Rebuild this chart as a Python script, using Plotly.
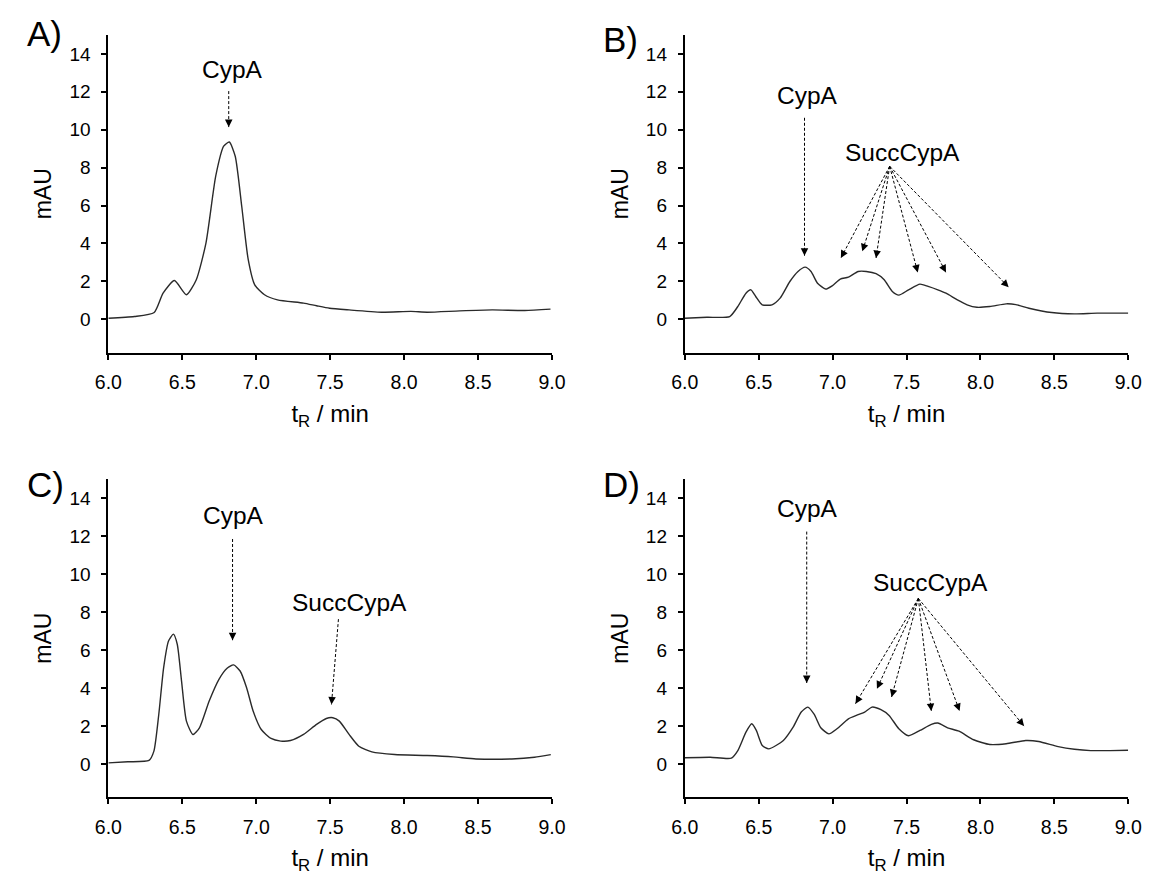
import math
import plotly.graph_objects as go

# ---------------- data ----------------
t_A = [6.0, 6.176, 6.31, 6.37, 6.447, 6.528, 6.594, 6.66, 6.726, 6.78, 6.818, 6.858, 6.902, 6.946,
       6.99, 7.056, 7.144, 7.32, 7.408, 7.496, 7.628, 7.848, 8.046, 8.156, 8.376, 8.596, 8.816, 8.99]
mAU_A = [0.05, 0.14, 0.35, 1.37, 2.04, 1.29, 2.07, 4.02, 7.55, 9.13, 9.35, 8.6, 5.96, 3.14,
         1.81, 1.29, 1.02, 0.85, 0.71, 0.58, 0.49, 0.37, 0.41, 0.37, 0.44, 0.49, 0.46, 0.53]

t_B = [6.0, 6.15, 6.304, 6.359, 6.414, 6.447, 6.48, 6.524, 6.59, 6.645, 6.711, 6.766, 6.814, 6.854,
       6.898, 6.953, 6.997, 7.052, 7.107, 7.173, 7.228, 7.294, 7.349, 7.404, 7.448, 7.514, 7.591,
       7.646, 7.712, 7.767, 7.844, 7.91, 7.976, 8.064, 8.174, 8.24, 8.328, 8.482, 8.636, 8.79, 9.0]
mAU_B = [0.05, 0.1, 0.14, 0.67, 1.37, 1.55, 1.2, 0.76, 0.76, 1.11, 1.99, 2.52, 2.75, 2.52,
         1.9, 1.59, 1.76, 2.12, 2.22, 2.52, 2.52, 2.4, 2.08, 1.46, 1.27, 1.55, 1.85,
         1.73, 1.55, 1.37, 1.02, 0.76, 0.63, 0.67, 0.81, 0.77, 0.58, 0.35, 0.28, 0.32, 0.32]

t_C = [6.0, 6.132, 6.275, 6.308, 6.341, 6.374, 6.407, 6.44, 6.466, 6.495, 6.528, 6.572, 6.616,
       6.682, 6.748, 6.803, 6.847, 6.891, 6.935, 6.979, 7.034, 7.1, 7.166, 7.232, 7.32, 7.408,
       7.474, 7.518, 7.562, 7.628, 7.694, 7.782, 7.936, 8.156, 8.332, 8.486, 8.728, 8.882, 8.992]
mAU_C = [0.05, 0.11, 0.18, 0.67, 2.6, 5.07, 6.47, 6.83, 6.3, 4.36, 2.25, 1.55, 1.9,
         3.31, 4.45, 5.03, 5.21, 4.89, 4.01, 2.78, 1.81, 1.34, 1.2, 1.23, 1.55, 2.08,
         2.39, 2.43, 2.25, 1.55, 0.93, 0.63, 0.49, 0.44, 0.37, 0.26, 0.26, 0.35, 0.49]

t_D = [6.0, 6.172, 6.315, 6.359, 6.414, 6.453, 6.484, 6.524, 6.568, 6.667, 6.733, 6.788, 6.832,
       6.876, 6.92, 6.975, 7.03, 7.107, 7.173, 7.217, 7.267, 7.327, 7.382, 7.448, 7.514, 7.591,
       7.668, 7.712, 7.778, 7.855, 7.954, 8.064, 8.174, 8.306, 8.394, 8.526, 8.636, 8.746, 8.878, 8.999]
mAU_D = [0.32, 0.35, 0.3, 0.7, 1.67, 2.11, 1.76, 0.97, 0.79, 1.23, 1.93, 2.73, 2.99,
         2.6, 1.9, 1.58, 1.85, 2.37, 2.59, 2.73, 2.99, 2.85, 2.55, 1.85, 1.48, 1.76,
         2.08, 2.15, 1.9, 1.72, 1.27, 1.02, 1.06, 1.23, 1.18, 0.91, 0.77, 0.7, 0.7, 0.72]

panel_labels = ["A)", "B)", "C)", "D)"]
x_ticks = [6.0, 6.5, 7.0, 7.5, 8.0, 8.5, 9.0]
y_ticks = [0, 2, 4, 6, 8, 10, 12, 14]

# peak labels: (text, t, mAU) per panel
labels_A = [("CypA", 6.84, 13.16)]
labels_B = [("CypA", 6.83, 11.83), ("SuccCypA", 7.47, 8.78)]
labels_C = [("CypA", 6.847, 13.07), ("SuccCypA", 7.633, 8.5)]
labels_D = [("CypA", 6.827, 13.42), ("SuccCypA", 7.663, 9.53)]

# arrows: (origin t, origin mAU, [(tip t, tip mAU), ...]) per panel
arrows_A = [(6.814, 12.04, [(6.814, 10.14)])]
arrows_B = [(6.81, 10.63, [(6.81, 3.35)]),
            (7.386, 8.07, [(7.056, 3.23), (7.201, 3.58), (7.294, 3.23),
                           (7.576, 2.47), (7.767, 2.47), (8.191, 1.69)])]
arrows_C = [(6.84, 11.84, [(6.84, 6.51)]),
            (7.556, 7.62, [(7.509, 3.13)])]
arrows_D = [(6.825, 12.23, [(6.825, 4.26)]),
            (7.58, 8.71, [(7.155, 3.17), (7.3, 3.96), (7.399, 3.52),
                          (7.668, 2.78), (7.859, 2.78), (8.295, 1.99)])]

# ---------------- layout ----------------
W, H = 1162, 875
FONT = "Liberation Sans, Arial, Helvetica, sans-serif"
X_RANGE = [6.0, 9.0]
Y_RANGE = [-1.76, 15.0]
XDOM_L = [0.0832, 0.4744]
XDOM_R = [0.5915, 0.9826]
YDOM_T = [0.5971, 0.960]
YDOM_B = [0.0888, 0.4526]
# panel letter anchor (left px, vertical centre px)
LETTER_POS = [(11, 34), (602, 39), (11, 484), (602, 484)]

panels = [
    (t_A, mAU_A, XDOM_L, YDOM_T, labels_A, arrows_A),
    (t_B, mAU_B, XDOM_R, YDOM_T, labels_B, arrows_B),
    (t_C, mAU_C, XDOM_L, YDOM_B, labels_C, arrows_C),
    (t_D, mAU_D, XDOM_R, YDOM_B, labels_D, arrows_D),
]

fig = go.Figure()
annotations = []
layout_axes = {}

for i, (tt, vv, xdom, ydom, labs, arrs) in enumerate(panels):
    n = i + 1
    xa = "x" if n == 1 else f"x{n}"
    ya = "y" if n == 1 else f"y{n}"
    xkey = "xaxis" if n == 1 else f"xaxis{n}"
    ykey = "yaxis" if n == 1 else f"yaxis{n}"

    fig.add_trace(go.Scatter(x=tt, y=vv, mode="lines", xaxis=xa, yaxis=ya,
                             line=dict(color="#2a2a2a", width=1.4, shape="spline", smoothing=0.6),
                             showlegend=False, hoverinfo="skip"))

    layout_axes[xkey] = dict(
        domain=xdom, anchor=ya, range=X_RANGE, tickvals=x_ticks,
        ticktext=[f"{v:.1f}" for v in x_ticks],
        showline=True, linecolor="black", linewidth=2, mirror=False,
        ticks="outside", ticklen=5, tickwidth=1.5, tickcolor="black",
        showgrid=False, zeroline=False, ticklabelstandoff=6,
        tickfont=dict(family=FONT, size=19.5, color="black"),
        title=dict(text="t<sub>R</sub> / min", font=dict(family=FONT, size=24, color="black"), standoff=13),
    )
    layout_axes[ykey] = dict(
        domain=ydom, anchor=xa, range=Y_RANGE, tickvals=y_ticks,
        showline=True, linecolor="black", linewidth=2, mirror=False,
        ticks="outside", ticklen=5, tickwidth=1.5, tickcolor="black",
        showgrid=False, zeroline=False, ticklabelstandoff=7,
        tickfont=dict(family=FONT, size=19, color="black"),
        title=dict(text="mAU", font=dict(family=FONT, size=23, color="black"), standoff=11),
    )

    # pixel scales for arrowhead orientation
    sx = (xdom[1] - xdom[0]) * W / (X_RANGE[1] - X_RANGE[0])
    sy = (ydom[1] - ydom[0]) * H / (Y_RANGE[1] - Y_RANGE[0])

    for (txt, lt, lv) in labs:
        annotations.append(dict(x=lt, y=lv, xref=xa, yref=ya, text=txt, showarrow=False,
                                xanchor="center", yanchor="middle",
                                font=dict(family=FONT, size=24.5, color="black")))

    for (ot, ov, tips) in arrs:
        for (pt, pv) in tips:
            fig.add_trace(go.Scatter(x=[ot, pt], y=[ov, pv], mode="lines", xaxis=xa, yaxis=ya,
                                     line=dict(color="black", width=1, dash="3px,2px"),
                                     showlegend=False, hoverinfo="skip"))
            dxp = (ot - pt) * sx
            dyp = (ov - pv) * sy
            d = math.hypot(dxp, dyp)
            L = 6.0
            annotations.append(dict(
                x=pt, y=pv, xref=xa, yref=ya, axref=xa, ayref=ya,
                ax=pt + dxp / d * L / sx, ay=pv + dyp / d * L / sy,
                text="", showarrow=True, arrowhead=2, arrowsize=1.5, arrowwidth=1,
                arrowcolor="black", standoff=0))

    lx, ly = LETTER_POS[i]
    annotations.append(dict(
        x=lx / W, y=1 - ly / H, xref="paper", yref="paper",
        text=panel_labels[i], showarrow=False, xanchor="left", yanchor="middle",
        font=dict(family=FONT, size=35, color="black")))

fig.update_layout(
    width=W, height=H, margin=dict(l=0, r=0, t=0, b=0),
    paper_bgcolor="white", plot_bgcolor="white",
    annotations=annotations, showlegend=False,
    **layout_axes,
)

fig.write_html("out.html", config={"displayModeBar": False},
               post_script="document.body.style.margin='0px';")
